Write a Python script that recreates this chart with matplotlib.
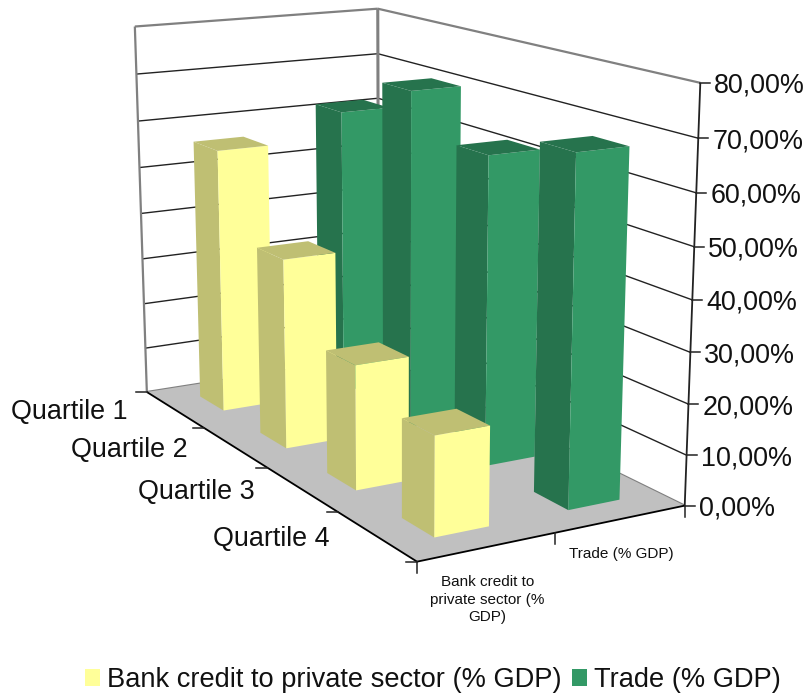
import numpy as np
import matplotlib
matplotlib.use("Agg")
import matplotlib.pyplot as plt
from matplotlib.lines import Line2D
from matplotlib.patches import Patch
from mpl_toolkits.mplot3d import proj3d
from mpl_toolkits.mplot3d.art3d import Line3DCollection, Poly3DCollection

plt.rcParams["font.family"] = ["Liberation Sans", "DejaVu Sans"]

quartiles = ["Quartile 1", "Quartile 2", "Quartile 3", "Quartile 4"]
series_names = ["Bank credit to private sector (% GDP)", "Trade (% GDP)"]
series_ticks = ["Bank credit to\nprivate sector (%\nGDP)", "Trade (% GDP)"]
bank_credit = [56.2, 39.3, 25.0, 19.4]
trade = [61.7, 70.5, 62.4, 67.9]
z_ticks = [0, 10, 20, 30, 40, 50, 60, 70, 80]
z_labels = ["0,00%", "10,00%", "20,00%", "30,00%", "40,00%", "50,00%", "60,00%", "70,00%", "80,00%"]

YELLOW = {"front": "#FFFF99", "side": "#BFBF73", "top": "#BFBF73"}
GREEN = {"front": "#339966", "side": "#26734D", "top": "#26734D"}

# frame corners (series, quartile, value) -> where they sit in the picture
world_pts = [(0, 0, 0), (0, 4, 0), (2, 4, 0), (2, 0, 0), (0, 0, 80), (2, 0, 80),
             (2, 4, 80), (2, 4, 40), (0, 0, 50)]
image_pts = [(146.7, 391), (417, 562.5), (685, 505), (378.8, 356.5), (134.5, 26.7),
             (377.7, 8.3), (700.7, 83.3), (691.7, 299.3), (140, 167.7)]


def camera_matrix(world, image):
    # Excel's view is a plain perspective, so solve it directly (DLT)
    rows, rhs = [], []
    for (x, y, z), (u, v) in zip(world, image):
        rows.append([x, y, z, 1, 0, 0, 0, 0, -u * x, -u * y, -u * z])
        rows.append([0, 0, 0, 0, x, y, z, 1, -v * x, -v * y, -v * z])
        rhs += [u, v]
    p = np.linalg.lstsq(np.array(rows, float), np.array(rhs, float), rcond=None)[0]
    return np.array([p[:4], p[4:8], [0, 0, 0, -1], [p[8], p[9], p[10], 1.0]])


M = camera_matrix(world_pts, image_pts)

fig = plt.figure(figsize=(8.12, 6.93), dpi=100)
ax = fig.add_axes([0, -59.5 / 693, 1, 812 / 693], projection="3d", computed_zorder=False)
ax.set_axis_off()
ax.get_proj = lambda: M
ax.viewLim.intervalx = (0, 812)
ax.viewLim.intervaly = (752.5, -59.5)


def to_px(x, y, z):
    px, py, _ = proj3d.proj_transform(x, y, z, M)
    return float(px), float(py)


def screen_tick(x, y, z, dx, dy, color="#222222"):
    px, py = to_px(x, y, z)
    fig.add_artist(Line2D([px, px + dx], [py, py + dy], transform=ax.transData,
                          color=color, linewidth=1.1))


def frame_lines(segments, color, width, zorder):
    ax.add_collection3d(Line3DCollection(segments, colors=color, linewidths=width, zorder=zorder))


# walls and floor
left_wall = [(0, 0, 0), (2, 0, 0), (2, 0, 80), (0, 0, 80)]
right_wall = [(2, 0, 0), (2, 4, 0), (2, 4, 80), (2, 0, 80)]
floor = [(0, 0, 0), (0, 4, 0), (2, 4, 0), (2, 0, 0)]
ax.add_collection3d(Poly3DCollection([left_wall, right_wall], facecolor="white",
                                     edgecolor="none", zorder=1))
grid = []
for v in z_ticks[1:-1]:
    grid += [[(0, 0, v), (2, 0, v)], [(2, 0, v), (2, 4, v)]]
frame_lines(grid, "#222222", 1.0, 2)
frame_lines([[(0, 0, 0), (0, 0, 80)], [(0, 0, 80), (2, 0, 80)], [(2, 0, 80), (2, 4, 80)],
             [(0, 0, 0), (2, 0, 0)], [(2, 0, 0), (2, 4, 0)]], "#808080", 1.6, 2)
frame_lines([[(2, 0, 0), (2, 0, 80)]], "#808080", 2.2, 2)
ax.add_collection3d(Poly3DCollection([floor], facecolor="#C0C0C0", edgecolor="none", zorder=3))
frame_lines([[(2, 4, 0), (2, 4, 80)]], "#222222", 1.3, 4)
frame_lines([[(0, 0, 0), (0, 4, 0)], [(0, 4, 0), (2, 4, 0)]], "black", 1.3, 4)

# bars, far ones first. hidden faces stay transparent
order = 10
bar_w = 0.4
for col, values, cols in [(1, trade, GREEN), (0, bank_credit, YELLOW)]:
    for q, val in enumerate(values):
        face_cols = ["none", cols["top"], "none", cols["front"], cols["side"], "none"]
        ax.bar3d(col + 0.3, q + 0.3, 0, bar_w, bar_w, val, color=face_cols, shade=False,
                 linewidth=0, zorder=order)
        order += 1

# ticks and labels, these stay flat on the screen
for v, lab in zip(z_ticks, z_labels):
    screen_tick(2, 4, v, 10, 0)
    ax.annotate(lab, to_px(2, 4, v), xytext=(14, -3), textcoords="offset pixels",
                ha="left", va="center", fontsize=19.4, color="#111111")
for q in range(5):
    screen_tick(0, q, 0, -11, 0)
for q, lab in enumerate(quartiles):
    ax.annotate(lab, to_px(0, q + 0.5, 0), xytext=(-47, -3), textcoords="offset pixels",
                ha="right", va="center", fontsize=19.4, color="#111111")
for s in range(3):
    screen_tick(s, 4, 0, 0, 11)
for s, lab in enumerate(series_ticks):
    ax.annotate(lab, to_px(s + 0.5, 4, 0), xytext=(0, -28), textcoords="offset pixels",
                ha="center", va="top", fontsize=11, color="#111111", linespacing=1.33)

handles = [Patch(facecolor=YELLOW["front"]), Patch(facecolor=GREEN["front"])]
fig.legend(handles, series_names, ncol=2, loc="center left", frameon=False,
           bbox_to_anchor=(85 / 812, 1 - 680 / 693), fontsize=19.6, borderpad=0, borderaxespad=0,
           handlelength=0.56, handleheight=0.56, handletextpad=0.26, columnspacing=0.37,
           labelcolor="#111111")

fig.savefig("out.png", dpi=100)
